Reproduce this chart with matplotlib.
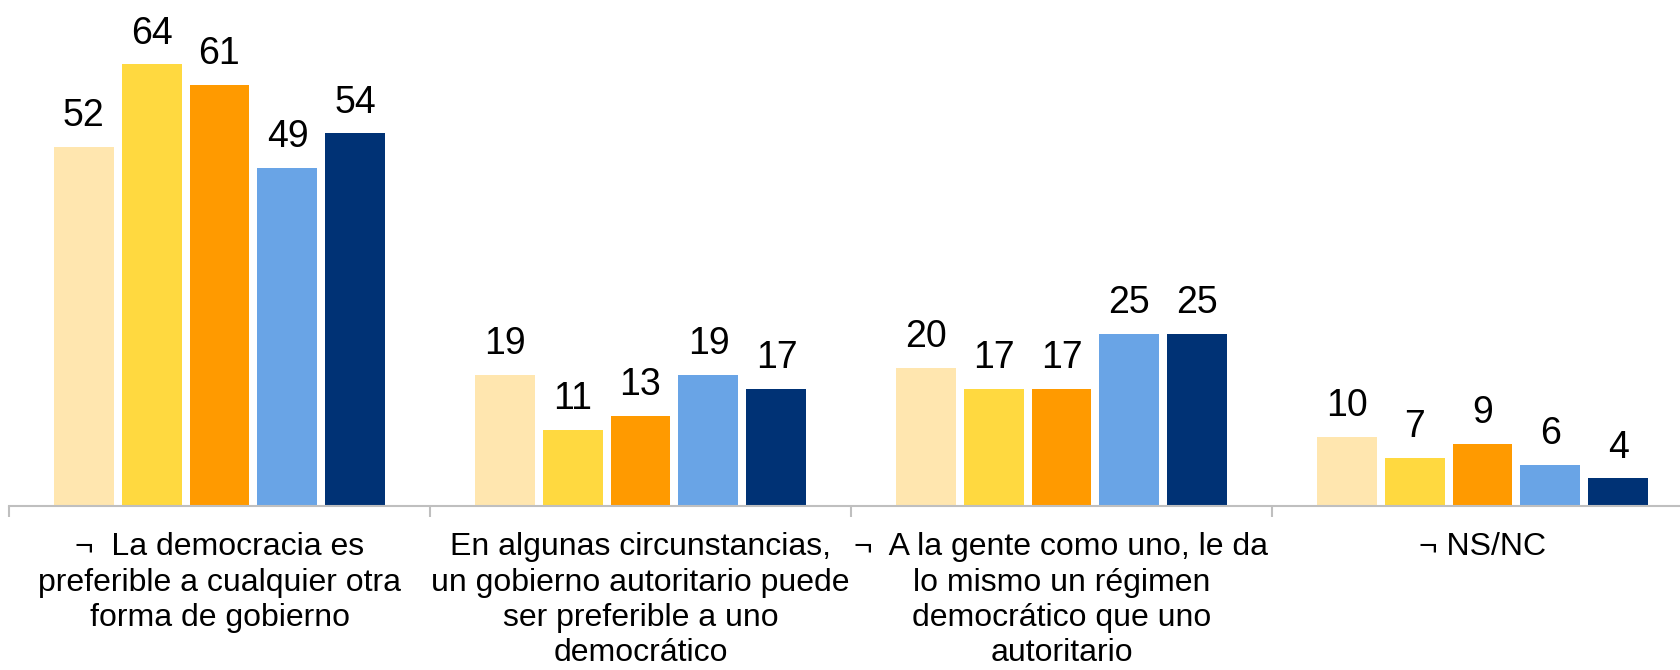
import numpy as np
import matplotlib
matplotlib.use("Agg")
import matplotlib.pyplot as plt

plt.rcParams['font.family'] = ['Liberation Sans', 'DejaVu Sans']

categories = [
    "\u00ac  La democracia es\npreferible a cualquier otra\nforma de gobierno",
    "En algunas circunstancias,\nun gobierno autoritario puede\nser preferible a uno\ndemocrático",
    "\u00ac  A la gente como uno, le da\nlo mismo un régimen\ndemocrático que uno\nautoritario",
    "\u00ac NS/NC",
]

serie_1 = [52, 19, 20, 10]
serie_2 = [64, 11, 17, 7]
serie_3 = [61, 13, 17, 9]
serie_4 = [49, 19, 25, 6]
serie_5 = [54, 17, 25, 4]

series = [serie_1, serie_2, serie_3, serie_4, serie_5]
colors = ['#FFE6AF', '#FFD940', '#FF9A00', '#69A4E6', '#003275']

W, H = 1681, 670
fig = plt.figure(figsize=(W / 100, H / 100), dpi=100)
# axes spans 4 categories of ~421 px each, starting at x=9, baseline at y=506
ax = fig.add_axes([9 / W, (H - 506) / H, 1684 / W, 70 * 6.9 / H])

x = np.arange(len(categories))
pitch = 0.1615
width = 0.1425
for j, (vals, c) in enumerate(zip(series, colors)):
    pos = x + (j - 2) * pitch
    bars = ax.bar(pos, vals, width=width, color=c, zorder=2)
    for b, v in zip(bars, vals):
        ax.annotate(str(v), xy=(b.get_x() + b.get_width() / 2, v),
                    xytext=(0, 15), textcoords='offset points',
                    ha='center', va='baseline', fontsize=27)

ax.set_xlim(-0.5, len(categories) - 0.5)
ax.set_ylim(0, 70)

for s in ['top', 'left', 'right']:
    ax.spines[s].set_visible(False)
ax.spines['bottom'].set_color('#BFBFBF')
ax.spines['bottom'].set_linewidth(1.5)
ax.set_yticks([])

ax.set_xticks(x)
ax.set_xticklabels(categories, fontsize=23, linespacing=1.23)
ax.tick_params(axis='x', which='major', length=0, pad=19)
ax.set_xticks(np.arange(-0.5, len(categories)), minor=True)
ax.tick_params(axis='x', which='minor', length=8, width=1.5, color='#BFBFBF', direction='out')

fig.savefig('out.png', dpi=100)
